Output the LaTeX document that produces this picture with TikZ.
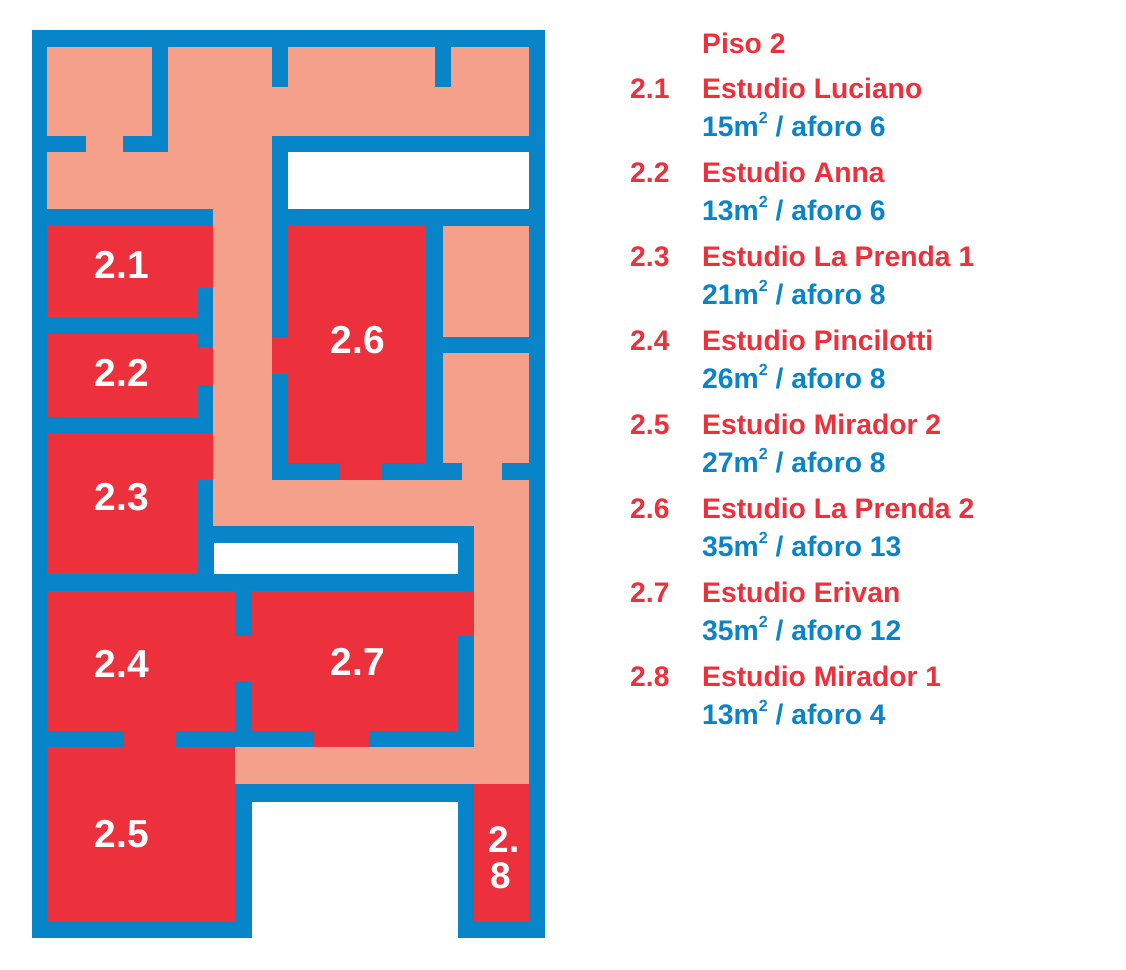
\documentclass[tikz,border=0pt]{standalone}
\usepackage{fontspec}
\setmainfont{Liberation Sans}
\definecolor{wb}{HTML}{0885C9}
\definecolor{rr}{HTML}{EC303C}
\definecolor{sal}{HTML}{F4A08B}
\newcommand{\sqm}{m\raisebox{0.45em}{\fontsize{16}{16}\selectfont 2}}
\tikzset{
 room/.style={fill=rr},
 cor/.style={fill=sal},
 wall/.style={fill=wb},
 blank/.style={fill=white},
 lab/.style={text=white,font=\fontsize{39}{39}\selectfont\bfseries,inner sep=0pt},
 leg/.style={anchor=base west,font=\fontsize{28.3}{30}\selectfont\bfseries,inner sep=0pt},
}
\begin{document}
\begin{tikzpicture}[x=1pt,y=-1pt]
\path[use as bounding box] (0,0) rectangle (1126,969);
% building
\fill[wall] (32,30) rectangle (545,938);
\fill[blank] (251.7,801.7) rectangle (457.7,940);
% corridors
\fill[cor] (47.3,46.7) rectangle (529,135.7);
\fill[cor] (47.3,152.3) rectangle (213.3,209);
\fill[cor] (167.7,135.7) rectangle (271.7,152.3);
\fill[cor] (213.3,135.7) rectangle (271.7,526);
\fill[cor] (85.7,135.7) rectangle (122.7,152.3);
\fill[cor] (213.3,480) rectangle (529,526);
\fill[cor] (474,480) rectangle (529,784.3);
\fill[cor] (235,747.3) rectangle (529,784.3);
\fill[cor] (442.7,225.7) rectangle (529,337.3);
\fill[cor] (442.7,353.3) rectangle (529,463.3);
\fill[cor] (461.7,463.3) rectangle (502,480);
% wall stubs
\fill[wall] (151.7,46.7) rectangle (167.7,152.3);
\fill[wall] (47.3,135.7) rectangle (85.7,152.3);
\fill[wall] (122.7,135.7) rectangle (151.7,152.3);
\fill[wall] (271.7,46.7) rectangle (288.3,87.3);
\fill[wall] (435,46.7) rectangle (450.7,87.3);
% voids
\fill[blank] (288.3,152.3) rectangle (529,209);
\fill[blank] (214,542.7) rectangle (457.7,574);
% rooms
\fill[room] (47.3,225.7) rectangle (213.3,288.3);
\fill[room] (47.3,288.3) rectangle (197.3,316.7);
\fill[room] (47.3,334) rectangle (197.3,416.7);
\fill[room] (197.3,346.7) rectangle (213.3,385);
\fill[room] (47.3,433.3) rectangle (213.3,480);
\fill[room] (47.3,480) rectangle (197.3,574);
\fill[room] (288.3,225.7) rectangle (426,463.3);
\fill[room] (271.7,337.3) rectangle (288.3,374);
\fill[room] (340,463.3) rectangle (381.7,480);
\fill[room] (47.3,591) rectangle (235,731);
\fill[room] (235,635.7) rectangle (251.7,681);
\fill[room] (124,731) rectangle (175.7,747.3);
\fill[room] (251.7,591) rectangle (474,635.7);
\fill[room] (251.7,635.7) rectangle (457.7,731);
\fill[room] (313.3,731) rectangle (369.3,747.3);
\fill[room] (47.3,747.3) rectangle (235,921.7);
\fill[room] (474,784.3) rectangle (529,921.7);
% room labels
\node[lab] (l21) at (122,265) {2.1};
\node[lab] (l22) at (122,373) {2.2};
\node[lab] (l23) at (122,497) {2.3};
\node[lab] (l24) at (122,664) {2.4};
\node[lab] (l25) at (122,834) {2.5};
\node[lab] (l26) at (358,340) {2.6};
\node[lab] (l27) at (358,662) {2.7};
\node[lab,font=\fontsize{37}{37}\selectfont\bfseries] (l28a) at (504,840) {2.};
\node[lab,font=\fontsize{37}{37}\selectfont\bfseries] (l28b) at (501,876) {8};
% legend
\node[leg,text=rr] (piso) at (702,53) {Piso 2};
\foreach \n/\t/\s [count=\i from 0] in {1/Estudio Luciano/{15\sqm{} / aforo 6},
 2/Estudio Anna/{13\sqm{} / aforo 6},
 3/Estudio La Prenda 1/{21\sqm{} / aforo 8},
 4/Estudio Pincilotti/{26\sqm{} / aforo 8},
 5/Estudio Mirador 2/{27\sqm{} / aforo 8},
 6/Estudio La Prenda 2/{35\sqm{} / aforo 13},
 7/Estudio Erivan/{35\sqm{} / aforo 12},
 8/Estudio Mirador 1/{13\sqm{} / aforo 4}}{
 \node[leg,text=rr] (num\n) at (630,98+84*\i) {2.\n};
 \node[leg,text=rr] (name\n) at (702,98+84*\i) {\t};
 \node[leg,text=wb] (area\n) at (702,136+84*\i) {\s};
}
\end{tikzpicture}
\end{document}
